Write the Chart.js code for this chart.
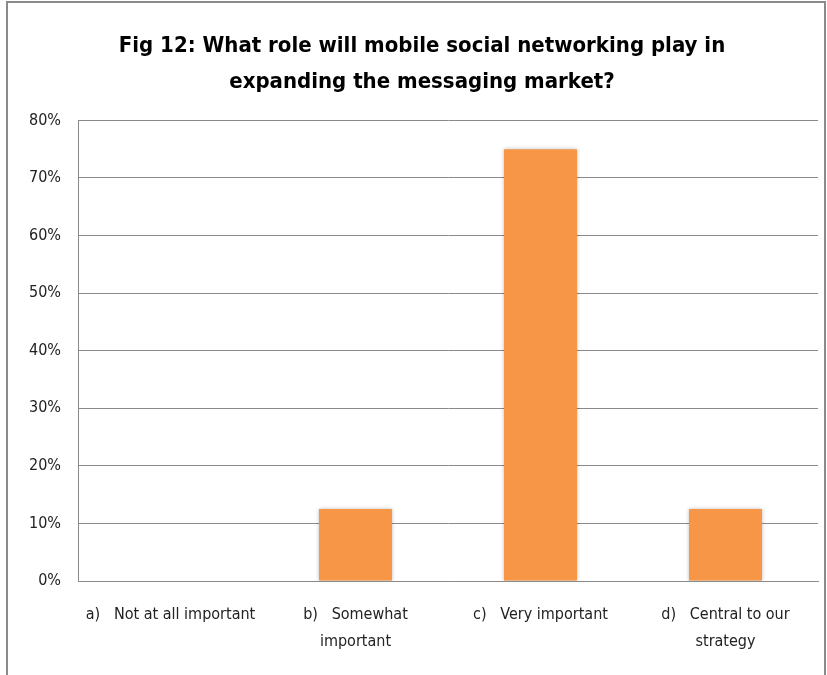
<!DOCTYPE html>
<html>
<head>
<meta charset="utf-8">
<script src="https://cdn.jsdelivr.net/npm/chart.js@4/dist/chart.umd.min.js"></script>
<style>
  html, body { margin: 0; padding: 0; background: #fff; }
  #wrap { position: relative; width: 827px; height: 675px; overflow: hidden; }
  #frame { position: absolute; left: 6px; top: 1px; width: 816px; height: 700px; border: 2px solid #8a8a8a; }
  #chart { position: absolute; left: 0; top: 0; }
</style>
</head>
<body>
<div id="wrap">
  <div id="frame"></div>
  <canvas id="chart" width="827" height="675"></canvas>
</div>
<script>
// Respuestas de la encuesta, figura 12
const titulo = ['Fig 12: What role will mobile social networking play in', 'expanding the messaging market?'];
const categorias = [
  'a)   Not at all important',
  ['b)   Somewhat', 'important'],
  'c)   Very important',
  ['d)   Central to our', 'strategy']
];
const porcentajes = [0, 12.5, 75, 12.5];
const ticksY = [0, 10, 20, 30, 40, 50, 60, 70, 80];

const fuente = "'Liberation Sans Narrow', 'DejaVu Sans Condensed', 'Liberation Sans', sans-serif";

// sombra suave alrededor de las barras
const sombraBarras = {
  id: 'sombraBarras',
  beforeDatasetsDraw(chart) {
    const ctx = chart.ctx;
    ctx.save();
    ctx.shadowColor = 'rgba(0,0,0,0.25)';
    ctx.shadowBlur = 4;
  },
  afterDatasetsDraw(chart) {
    chart.ctx.restore();
  }
};

new Chart(document.getElementById('chart'), {
  type: 'bar',
  data: {
    labels: categorias,
    datasets: [{
      data: porcentajes,
      backgroundColor: '#F79646',
      borderWidth: 0,
      barPercentage: 0.79,
      categoryPercentage: 0.5
    }]
  },
  options: {
    responsive: false,
    animation: false,
    layout: { padding: { left: 26, right: 9, top: 0, bottom: 0 } },
    plugins: {
      legend: { display: false },
      tooltip: { enabled: false },
      title: {
        display: true,
        text: titulo,
        color: '#000',
        font: { family: fuente, size: 22, weight: 'bold', lineHeight: 1.6 },
        padding: { top: 29, bottom: 21 }
      }
    },
    scales: {
      x: {
        grid: { display: false, drawTicks: false },
        border: { color: '#8a8a8a', width: 1 },
        ticks: {
          color: '#222',
          padding: 20,
          maxRotation: 0,
          autoSkip: false,
          font: { family: fuente, size: 16, lineHeight: 1.7 }
        },
        afterFit(scale) { scale.height = 94; }
      },
      y: {
        min: 0,
        max: 80,
        afterBuildTicks(scale) { scale.ticks = ticksY.map(v => ({ value: v })); },
        grid: { color: '#8a8a8a', lineWidth: 1, drawTicks: false },
        border: { color: '#8a8a8a', width: 1 },
        ticks: {
          color: '#222',
          padding: 17,
          font: { family: fuente, size: 16 },
          callback: v => v + '%'
        },
        afterFit(scale) { scale.width = 52; }
      }
    }
  },
  plugins: [sombraBarras]
});
</script>
</body>
</html>
